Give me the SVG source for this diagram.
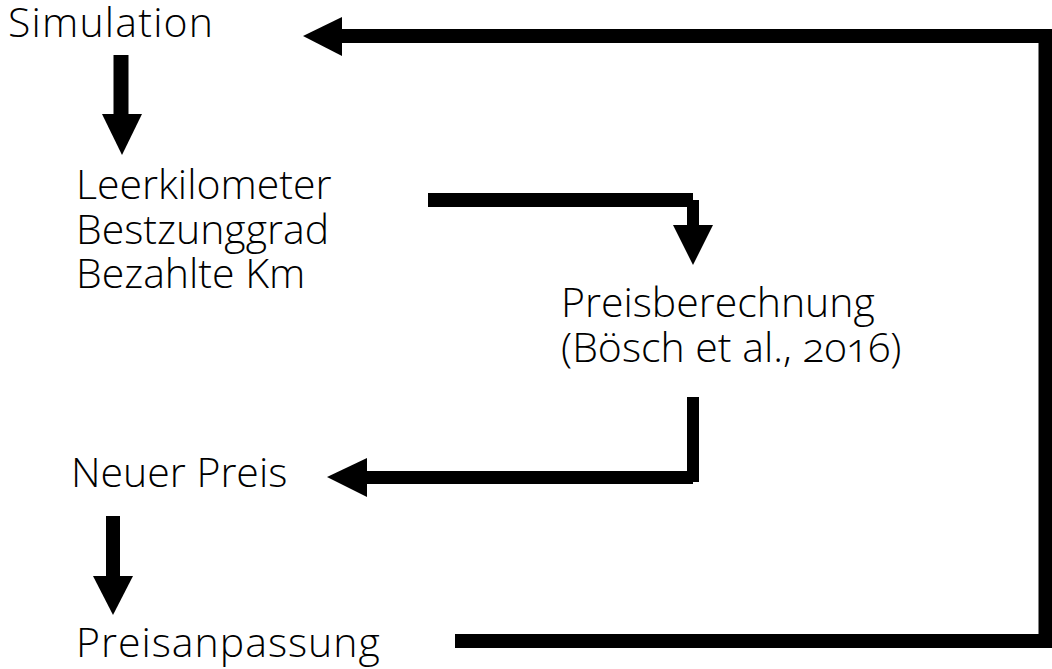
<svg xmlns="http://www.w3.org/2000/svg" width="1052" height="669" viewBox="0 0 1052 669">
<style>
.t{font-family:"Open Sans","Noto Sans",sans-serif;font-size:41px;font-weight:300;fill:#000;}
.c{fill:none;stroke:#000;stroke-width:14;stroke-linejoin:miter;stroke-linecap:butt;}
.h{fill:#000;}
</style>
<rect width="1052" height="669" fill="#fff"/>
<g id="connectors">
<path class="c" d="M121,55 V115" style="stroke-width:15"/>
<polygon class="h" points="102,114 142,114 122,155"/>
<path class="c" d="M428,200 H693"/>
<path class="c" d="M693,200 V226" style="stroke-width:12"/>
<polygon class="h" points="673,225 713,225 693,265"/>
<path class="c" d="M693,397 V482" style="stroke-width:12"/>
<path class="c" d="M693,477.5 H366" style="stroke-width:13"/>
<polygon class="h" points="367,458 367,497 327,477"/>
<path class="c" d="M113,516 V577"/>
<polygon class="h" points="93,576 133,576 113,615"/>
<path class="c" d="M455,641 H1045.5 V36 H341"/>
<polygon class="h" points="342,17 342,56 303,36"/>
</g>
<g id="simulation"><text class="t" x="8" y="37" style="letter-spacing:1.2px">Simulation</text></g>
<g id="kennzahlen">
<text class="t" x="76" y="199">Leerkilometer</text>
<text class="t" x="76" y="243.5">Bestzunggrad</text>
<text class="t" x="76" y="288">Bezahlte Km</text>
</g>
<g id="preisberechnung">
<text class="t" x="561" y="317">Preisberechnung</text>
<text class="t" x="561" y="362" style="font-variant-numeric:oldstyle-nums">(Bösch et al., 2016)</text>
</g>
<g id="neuer-preis"><text class="t" x="71" y="487">Neuer Preis</text></g>
<g id="preisanpassung"><text class="t" x="76" y="657" style="letter-spacing:1px">Preisanpassung</text></g>
</svg>
